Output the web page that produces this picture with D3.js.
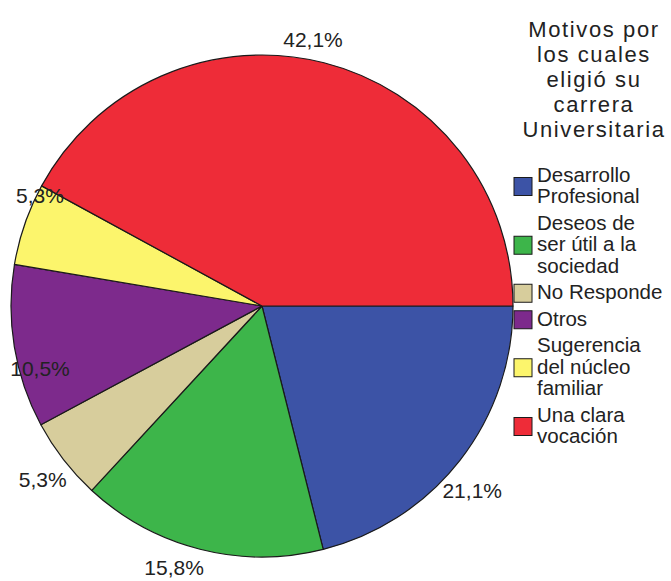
<!DOCTYPE html>
<html>
<head>
<meta charset="utf-8">
<script src="https://cdn.jsdelivr.net/npm/d3@7"></script>
<style>
  html, body { margin: 0; padding: 0; background: #ffffff; }
  svg { display: block; }
</style>
</head>
<body>
<svg id="chart" width="671" height="581"></svg>
<script>
// ---- data ----
const categories = ["Desarrollo Profesional", "Deseos de ser útil a la sociedad", "No Responde", "Otros", "Sugerencia del núcleo familiar", "Una clara vocación"];
const legendLines = [["Desarrollo", "Profesional"], ["Deseos de", "ser útil a la", "sociedad"], ["No Responde"], ["Otros"], ["Sugerencia", "del núcleo", "familiar"], ["Una clara", "vocación"]];
const values = [21.1, 15.8, 5.3, 10.5, 5.3, 42.1];
const valueLabels = ["21,1%", "15,8%", "5,3%", "10,5%", "5,3%", "42,1%"];
const colors = ["#3c53a6", "#3db54a", "#d7cd9c", "#7d2a8c", "#fcf56c", "#ee2c38"];
const titleLines = ["Motivos por", "los cuales", "eligió su", "carrera", "Universitaria"];

// ---- layout ----
const svg = d3.select("#chart");
const cx = 262, cy = 306, R = 251;
const font = "'Liberation Sans', Arial, sans-serif";
// small angular nudges (degrees) for the percentage labels, to mimic the original placement
const labelAngleNudge = [3.4, 4, -0.7, -3.7, 4.1, -3.8];

const pie = d3.pie().sort(null).value(d => d)
  .startAngle(Math.PI / 2).endAngle(Math.PI / 2 + 2 * Math.PI);
const arcs = pie(values);
const arc = d3.arc().innerRadius(0).outerRadius(R);

const g = svg.append("g").attr("transform", `translate(${cx},${cy})`);
g.selectAll("path.slice").data(arcs).enter().append("path")
  .attr("class", "slice")
  .attr("d", arc)
  .attr("fill", (d, i) => colors[i])
  .attr("stroke", "#1a1a1a")
  .attr("stroke-width", 1.2)
  .attr("stroke-linejoin", "round");

// labels
const labelR = 280;
g.selectAll("text.pct").data(arcs).enter().append("text")
  .attr("class", "pct")
  .each(function (d, i) {
    const a = (d.startAngle + d.endAngle) / 2 + labelAngleNudge[i] * Math.PI / 180;
    let x = Math.sin(a) * labelR;
    let y = -Math.cos(a) * labelR;
    const minX = 40 - cx;
    if (x < minX) x = minX;
    const maxY = 568 - cy;
    if (y > maxY) y = maxY;
    const minY = 40 - cy;
    if (y < minY) y = minY;
    d3.select(this).attr("x", x).attr("y", y + 7);
  })
  .attr("text-anchor", "middle")
  .attr("font-family", font)
  .attr("font-size", 21)
  .attr("fill", "#222")
  .text((d, i) => valueLabels[i]);

// legend title
const lx = 594;
svg.append("g").selectAll("text").data(titleLines).enter().append("text")
  .attr("x", lx)
  .attr("y", (d, i) => 37 + i * 25)
  .attr("text-anchor", "middle")
  .attr("font-family", font)
  .attr("font-size", 22)
  .attr("letter-spacing", 1.6)
  .attr("fill", "#222")
  .text(d => d);

// legend items
const lineH = 21.5, gap = 5;
let yTop = 165;
const leg = svg.append("g");
legendLines.forEach((lines, i) => {
  const h = lines.length * lineH;
  const midY = yTop + h / 2;
  leg.append("rect")
    .attr("x", 514).attr("y", midY - 9)
    .attr("width", 18).attr("height", 18)
    .attr("fill", colors[i])
    .attr("stroke", "#1a1a1a").attr("stroke-width", 1);
  lines.forEach((t, j) => {
    leg.append("text")
      .attr("x", 537)
      .attr("y", yTop + j * lineH + 16.5)
      .attr("font-family", font)
      .attr("font-size", 20.5)
      .attr("fill", "#222")
      .text(t);
  });
  yTop += h + gap;
});
</script>
</body>
</html>
